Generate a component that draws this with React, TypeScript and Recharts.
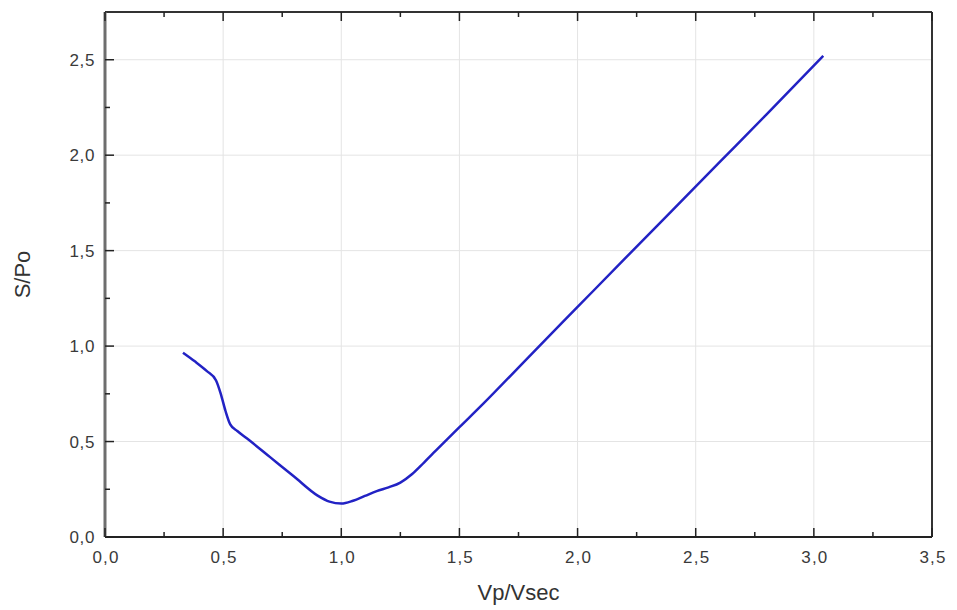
import { LineChart, Line, XAxis, YAxis, CartesianGrid } from 'recharts';

// Vp/Vsec vs S/P0
const vpVsec = [
  0.33, 0.38, 0.43, 0.47, 0.49, 0.51, 0.53, 0.56, 0.6, 0.7, 0.8, 0.9, 0.95, 1.0,
  1.05, 1.1, 1.15, 1.2, 1.25, 1.3, 1.35, 1.4, 1.5, 1.6, 1.8, 2.0, 2.2, 2.4, 2.6,
  2.8, 3.04,
];
const sP0 = [
  0.965, 0.92, 0.87, 0.82, 0.75, 0.66, 0.59, 0.555, 0.517, 0.417, 0.317, 0.217,
  0.185, 0.175, 0.19, 0.215, 0.24, 0.26, 0.285, 0.33, 0.39, 0.452, 0.575, 0.697,
  0.952, 1.205, 1.458, 1.71, 1.962, 2.214, 2.52,
];

const xTicks = [
  0, 0.25, 0.5, 0.75, 1, 1.25, 1.5, 1.75, 2, 2.25, 2.5, 2.75, 3, 3.25, 3.5,
];
const yTicks = [0, 0.25, 0.5, 0.75, 1, 1.25, 1.5, 1.75, 2, 2.25, 2.5];
const xGrid = [0.5, 1, 1.5, 2, 2.5, 3];
const yGrid = [0.5, 1, 1.5, 2, 2.5];

const data = vpVsec.map((x, i) => ({ x, s: sP0[i] }));

const FONT = '"Liberation Sans", Arial, sans-serif';
const isMajor = (v: number) => Math.abs(v * 2 - Math.round(v * 2)) < 1e-6;
const fmt = (v: number) => v.toFixed(1).replace('.', ',');

// ticks point into the plot on all four sides
function BottomTick({ x, y, payload }: any) {
  const major = isMajor(payload.value);
  return (
    <g>
      <line x1={x} y1={y} x2={x} y2={y - (major ? 9 : 5)} stroke="#222" strokeWidth={1.5} />
      {major && (
        <text
          x={x + 1}
          y={y + 26}
          textAnchor="middle"
          fontSize={17}
          letterSpacing={1.2}
          fill="#3a3a3a"
          fontFamily={FONT}
        >
          {fmt(payload.value)}
        </text>
      )}
    </g>
  );
}

function TopTick({ x, y, payload }: any) {
  const major = isMajor(payload.value);
  return <line x1={x} y1={y} x2={x} y2={y + (major ? 9 : 5)} stroke="#222" strokeWidth={1.5} />;
}

function LeftTick({ x, y, payload }: any) {
  const major = isMajor(payload.value);
  return (
    <g>
      <line x1={x} y1={y} x2={x + (major ? 9 : 5)} y2={y} stroke="#222" strokeWidth={1.5} />
      {major && (
        <text
          x={x - 10}
          y={y + 6}
          textAnchor="end"
          fontSize={17}
          letterSpacing={0.6}
          fill="#3a3a3a"
          fontFamily={FONT}
        >
          {fmt(payload.value)}
        </text>
      )}
    </g>
  );
}

function RightTick({ x, y, payload }: any) {
  const major = isMajor(payload.value);
  return <line x1={x} y1={y} x2={x - (major ? 9 : 5)} y2={y} stroke="#222" strokeWidth={1.5} />;
}

function XTitle({ viewBox }: any) {
  return (
    <text
      x={viewBox.x + viewBox.width / 2}
      y={viewBox.y + 63}
      textAnchor="middle"
      fontSize={22}
      fill="#333"
      fontFamily={FONT}
    >
      Vp/Vsec
    </text>
  );
}

function YTitle({ viewBox }: any) {
  const cx = viewBox.x + 14;
  const cy = viewBox.y + viewBox.height / 2;
  return (
    <text
      x={cx}
      y={cy}
      transform={`rotate(-90 ${cx} ${cy})`}
      textAnchor="middle"
      dominantBaseline="central"
      fontSize={22}
      fill="#333"
      fontFamily={FONT}
    >
      S/Po
    </text>
  );
}

export default function App() {
  return (
    <div style={{ width: 941, height: 602, background: '#fff' }}>
      <LineChart
        width={941}
        height={602}
        data={data}
        margin={{ top: 3, right: 16, bottom: 8, left: 0 }}
      >
        <CartesianGrid
          stroke="#e4e4e4"
          strokeWidth={1}
          verticalValues={xGrid}
          horizontalValues={yGrid}
        />
        <XAxis
          dataKey="x"
          type="number"
          domain={[0, 3.5]}
          ticks={xTicks}
          interval={0}
          height={65}
          tickSize={0}
          tickMargin={0}
          tickLine={false}
          axisLine={{ stroke: '#222', strokeWidth: 2 }}
          tick={<BottomTick />}
          label={<XTitle />}
        />
        <XAxis
          xAxisId="top"
          orientation="top"
          dataKey="x"
          type="number"
          domain={[0, 3.5]}
          ticks={xTicks}
          interval={0}
          height={1}
          tickSize={0}
          tickMargin={0}
          tickLine={false}
          axisLine={{ stroke: '#333', strokeWidth: 2 }}
          tick={<TopTick />}
        />
        <YAxis
          type="number"
          domain={[0, 2.75]}
          ticks={yTicks}
          interval={0}
          width={97}
          tickSize={0}
          tickMargin={0}
          tickLine={false}
          axisLine={{ stroke: '#6e6e6e', strokeWidth: 3 }}
          tick={<LeftTick />}
          label={<YTitle />}
        />
        <YAxis
          yAxisId="right"
          orientation="right"
          type="number"
          domain={[0, 2.75]}
          ticks={yTicks}
          interval={0}
          width={1}
          tickSize={0}
          tickMargin={0}
          tickLine={false}
          axisLine={{ stroke: '#333', strokeWidth: 2 }}
          tick={<RightTick />}
        />
        <Line
          type="monotone"
          dataKey="s"
          stroke="#2222c4"
          strokeWidth={2.5}
          dot={false}
          isAnimationActive={false}
        />
      </LineChart>
    </div>
  );
}
